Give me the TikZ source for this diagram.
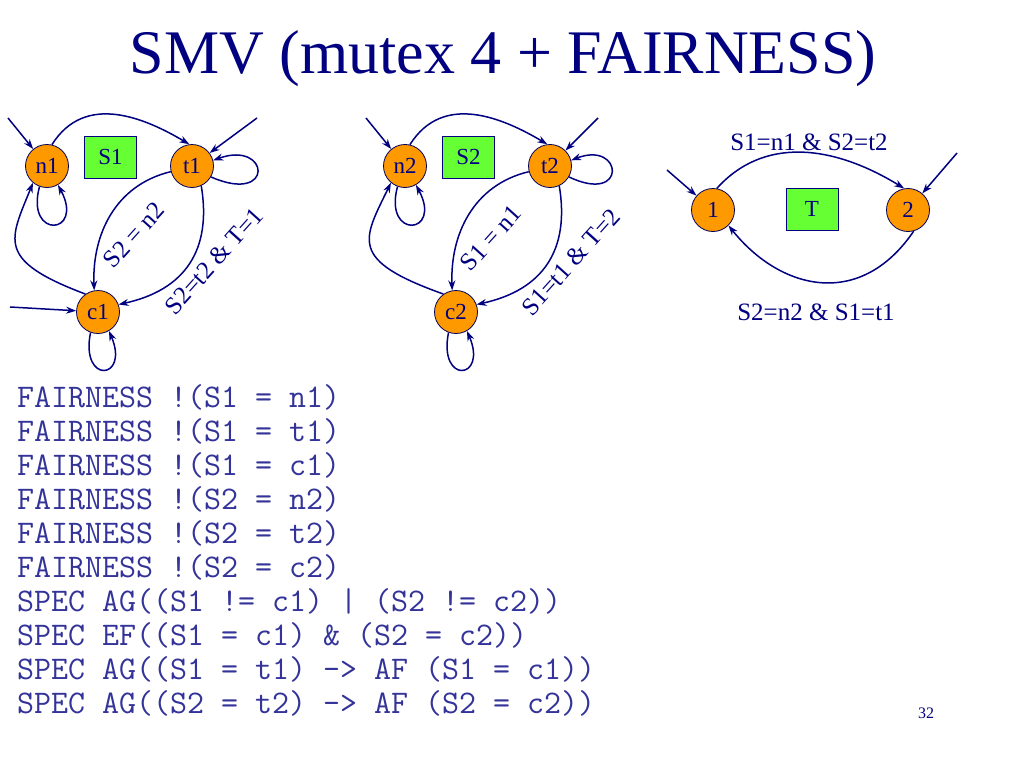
\documentclass[tikz,border=0pt]{standalone}
\usepackage{fontspec}
\setmainfont{Liberation Serif}
\usetikzlibrary{arrows.meta}
\definecolor{navyc}{RGB}{0,0,128}
\definecolor{codec}{RGB}{51,51,153}
\definecolor{orangec}{RGB}{255,153,0}
\definecolor{greenc}{RGB}{102,255,51}
\tikzset{
  state/.style={circle, draw=navyc!70!black, line width=0.8pt, fill=orangec, minimum size=43pt, inner sep=0pt, font=\fontsize{23}{23}\selectfont, text=navyc},
  varbox/.style={rectangle, draw=navyc, line width=0.8pt, fill=greenc, minimum width=52pt, minimum height=42pt, inner sep=0pt, font=\fontsize{23}{23}\selectfont, text=navyc},
  arr/.style={draw=navyc, line width=1.5pt, -{Stealth[length=10pt,width=7pt]}},
  lbl/.style={text=navyc, font=\fontsize{25}{25}\selectfont, inner sep=0pt},
  code/.style={text=codec, font=\ttfamily\fontsize{33}{33}\selectfont, anchor=base west, inner sep=0pt},
  ttl/.style={text=navyc, font=\fontsize{62}{62}\selectfont, anchor=base, inner sep=0pt}
}
\begin{document}
\begin{tikzpicture}[x=1pt,y=-1pt]
\useasboundingbox (0,0) rectangle (1024,768);
\fill[white] (0,0) rectangle (1024,768);

\node[ttl] (title) at (503,74) {SMV (mutex 4 + FAIRNESS)};

% ---- graph S1 ----
\node[state] (n1) at (47,166) {n1};
\node[state] (t1) at (192,166) {t1};
\node[state] (c1) at (98,312) {c1};
\node[varbox] (s1) at (110.5,157) {S1};
\coordinate (in1) at (8,118);
\coordinate (it1) at (257,118);
\coordinate (ic1) at (10,307);
\draw[arr] (in1) -- (n1);
\draw[arr] (it1) -- (t1);
\draw[arr] (ic1) -- (c1);
\draw[arr] (n1.77) .. controls (85,92) and (145,118) .. (t1.97);
\draw[arr] (n1.250) .. controls (25,240) and (85,235) .. (n1.300);
\draw[arr] (t1.-30) .. controls (275,205) and (270,140) .. (t1.15);
\draw[arr] (c1.250) .. controls (80,385) and (130,380) .. (c1.300);
\draw[arr] (c1.125) .. controls (-5,260) and (10,240) .. (n1.230);
\draw[arr] (t1.195) .. controls (115,185) and (92,235) .. (c1.100);
\draw[arr] (t1.-65) .. controls (212,250) and (185,290) .. (c1.20);
\node[lbl, rotate=48] (l1a) at (134,235) {S2 = n2};
\node[lbl, rotate=48] (l1b) at (214,261) {S2=t2 \& T=1};

% ---- graph S2 ----
\begin{scope}[xshift=358pt]
\node[state] (n2) at (47,166) {n2};
\node[state] (t2) at (192,166) {t2};
\node[state] (c2) at (98,312) {c2};
\node[varbox] (s2) at (110.5,157) {S2};
\coordinate (in2) at (8,118);
\coordinate (it2) at (240,118);
\draw[arr] (in2) -- (n2);
\draw[arr] (it2) -- (t2);
\draw[arr] (n2.77) .. controls (85,92) and (145,118) .. (t2.97);
\draw[arr] (n2.250) .. controls (25,240) and (85,235) .. (n2.300);
\draw[arr] (t2.-30) .. controls (270,205) and (265,140) .. (t2.15);
\draw[arr] (c2.250) .. controls (80,385) and (130,380) .. (c2.300);
\draw[arr] (c2.125) .. controls (-10,260) and (5,240) .. (n2.230);
\draw[arr] (t2.195) .. controls (115,185) and (92,235) .. (c2.100);
\draw[arr] (t2.-65) .. controls (212,250) and (185,290) .. (c2.20);
\node[lbl, rotate=48] (l2a) at (133,238) {S1 = n1};
\node[lbl, rotate=48] (l2b) at (213,262) {S1=t1 \& T=2};
\end{scope}

% ---- graph T ----
\node[state] (p1) at (713,210) {1};
\node[state] (p2) at (908,210) {2};
\node[varbox] (tb) at (812,209) {T};
\coordinate (ip1) at (667,170);
\coordinate (ip2) at (957,153);
\draw[arr] (ip1) -- (p1);
\draw[arr] (ip2) -- (p2);
\draw[arr] (p1.80) .. controls (762,138) and (830,143) .. (p2.100);
\draw[arr] (p2.-75) .. controls (860,310) and (780,290) .. (p1.-45);
\node[lbl] (l3a) at (809,142) {S1=n1 \& S2=t2};
\node[lbl] (l3b) at (816,312) {S2=n2 \& S1=t1};

% ---- code ----
\node[code] (f1) at (17,407) {FAIRNESS !(S1 = n1)};
\node[code] (f2) at (17,441) {FAIRNESS !(S1 = t1)};
\node[code] (f3) at (17,475) {FAIRNESS !(S1 = c1)};
\node[code] (f4) at (17,509) {FAIRNESS !(S2 = n2)};
\node[code] (f5) at (17,543) {FAIRNESS !(S2 = t2)};
\node[code] (f6) at (17,577) {FAIRNESS !(S2 = c2)};
\node[code] (f7) at (17,611) {SPEC AG((S1 != c1) | (S2 != c2))};
\node[code] (f8) at (17,645) {SPEC EF((S1 = c1) \& (S2 = c2))};
\node[code] (f9) at (17,679) {SPEC AG((S1 = t1) -> AF (S1 = c1))};
\node[code] (f10) at (17,713) {SPEC AG((S2 = t2) -> AF (S2 = c2))};

\node[text=navyc, font=\fontsize{16}{16}\selectfont, anchor=base, inner sep=0pt] (pg) at (926,718) {32};
\end{tikzpicture}
\end{document}
